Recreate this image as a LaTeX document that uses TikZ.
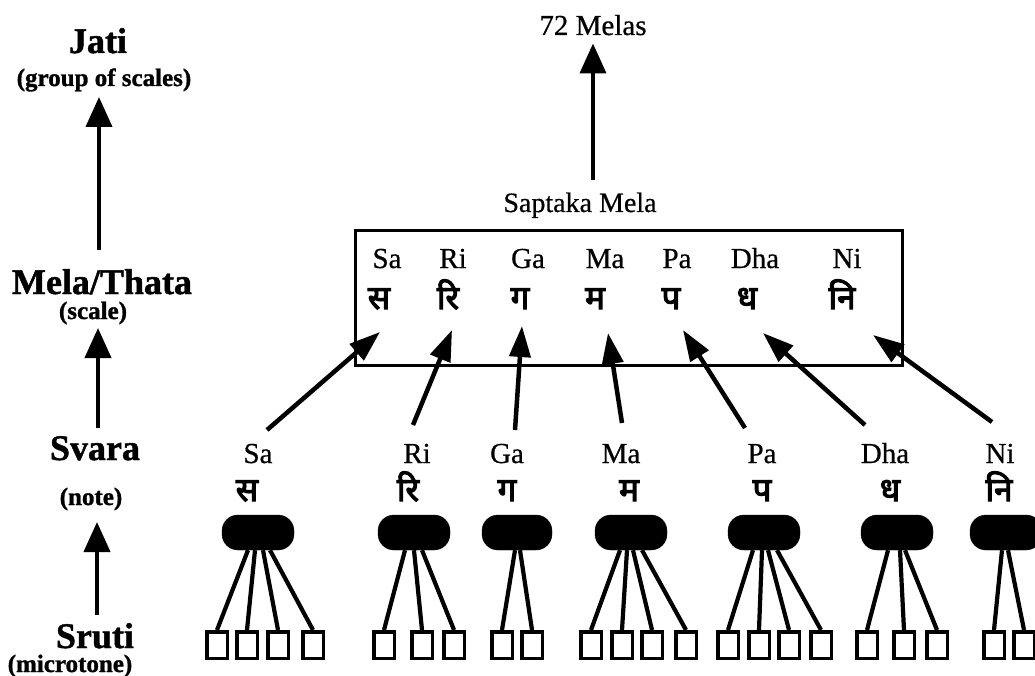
\documentclass[tikz,border=0pt]{standalone}
\usepackage{fontspec}
\setmainfont{Liberation Serif}[FakeBold=0.6, BoldFeatures={FakeBold=1.2}]
\newfontfamily\deva[Script=Devanagari,FakeBold=3.5]{Noto Sans}
\usetikzlibrary{arrows.meta}
\begin{document}
\begin{tikzpicture}[x=1pt,y=-1pt,
  head/.style={font=\fontsize{36}{37}\selectfont\bfseries, inner sep=0pt, anchor=base},
  sub/.style={font=\fontsize{25}{26}\selectfont\bfseries, inner sep=0pt, anchor=base},
  lbl/.style={font=\fontsize{29}{30}\selectfont, inner sep=0pt, anchor=base},
  dev/.style={font=\fontsize{33}{35}\selectfont\deva, inner sep=0pt, anchor=base},
  bigarr/.style={line width=4pt, -{Triangle[length=30pt,width=26pt]}},
  midarr/.style={line width=4.5pt, -{Triangle[length=31pt,width=21pt]}},
  pill/.style={fill=black, draw=black, rounded corners=16pt, minimum width=72pt, minimum height=35pt, inner sep=0pt},
  sq/.style={draw=black, line width=3.5pt, fill=white, minimum width=20.5pt, minimum height=26.5pt, inner sep=0pt},
  conn/.style={line width=4.2pt},
  frame/.style={draw=black, line width=3pt, inner sep=0pt}
]
\useasboundingbox (0,0) rectangle (1035,676);

% ---------- left hierarchy ----------
\node[head] (jati)  at (98,53)   {Jati};
\node[sub]  (grp)   at (104,86)  {(group of scales)};
\node[head] (mela)  at (102,294) {Mela/Thata};
\node[sub]  (scl)   at (93,319)  {(scale)};
\node[head] (svara) at (95,460)  {Svara};
\node[sub]  (note)  at (91,505)  {(note)};
\node[head] (sruti) at (95,648)  {Sruti};
\node[sub]  (micro) at (70,672)  {(microtone)};

\coordinate (l1a) at (99,250); \coordinate (l1b) at (99,97);
\coordinate (l2a) at (98,428); \coordinate (l2b) at (98,328);
\coordinate (l3a) at (97,615); \coordinate (l3b) at (97,522);
\draw[bigarr] (l1a) -- (l1b);
\draw[bigarr] (l2a) -- (l2b);
\draw[bigarr] (l3a) -- (l3b);

% ---------- top ----------
\node[lbl] (melas) at (593,35) {72 Melas};
\node[lbl, font=\fontsize{28}{30}\selectfont] (sapt) at (580,212) {Saptaka Mela};
\draw[bigarr, shorten <=12pt, shorten >=8pt] (sapt.north -| melas.south) -- (melas.south);

% ---------- box ----------
\node[frame, minimum width=547pt, minimum height=134pt] (box) at (629,298) {};
\foreach \n/\x in {Sa/387, Ri/453, Ga/528, Ma/605, Pa/677, Dha/755, Ni/847}
  \node[lbl] (b\n) at (\x,268) {\n};
\node[dev] (bdSa)  at (379,309) {स};
\node[dev] (bdRi)  at (448,309) {रि};
\node[dev] (bdGa)  at (520,309) {ग};
\node[dev] (bdMa)  at (595,309) {म};
\node[dev] (bdPa)  at (671,309) {प};
\node[dev] (bdDha) at (747,309) {ध};
\node[dev] (bdNi)  at (842,309) {नि};

% ---------- svara row ----------
\foreach \n/\x in {Sa/258, Ri/417, Ga/507, Ma/621, Pa/762, Dha/885, Ni/1000}
  \node[lbl] (s\n) at (\x,463) {\n};
\node[dev] (sdSa)  at (247,501) {स};
\node[dev] (sdRi)  at (408,501) {रि};
\node[dev] (sdGa)  at (507,501) {ग};
\node[dev] (sdMa)  at (629,501) {म};
\node[dev] (sdPa)  at (762,501) {प};
\node[dev] (sdDha) at (890,501) {ध};
\node[dev] (sdNi)  at (999,501) {नि};

% arrows svara -> mela
\foreach \n/\ax/\ay/\bx/\by in {Sa/267/430/380/332, Ri/413/425/452/330, Ga/515/430/522/326,
    Ma/622/423/608/333, Pa/745/428/683/330, Dha/865/425/763/333, Ni/992/422/873/335}{
  \coordinate (ta\n) at (\ax,\ay);
  \coordinate (tb\n) at (\bx,\by);
  \draw[midarr] (ta\n) -- (tb\n);
}

% ---------- pills and srutis ----------
\node[pill] (pSa)  at (258,532.5) {};
\node[pill] (pRi)  at (414,532.5) {};
\node[pill, minimum width=70pt] (pGa)  at (517,532.5) {};
\node[pill] (pMa)  at (631,532.5) {};
\node[pill] (pPa)  at (764,532.5) {};
\node[pill] (pDha) at (897,532.5) {};
\node[pill] (pNi)  at (1006,532.5) {};

\foreach \i/\x/\o in {1/217/-10, 2/247/-3, 3/278/5, 4/313/12}{
  \node[sq] (qSa\i) at (\x,645) {};
  \draw[conn] ([xshift=\o]pSa.south) -- (qSa\i.north);}
\foreach \i/\x/\o in {1/384/-9, 2/422/0, 3/454/8}{
  \node[sq] (qRi\i) at (\x,645) {};
  \draw[conn] ([xshift=\o]pRi.south) -- (qRi\i.north);}
\foreach \i/\x/\o in {1/502/-2, 2/532/3}{
  \node[sq] (qGa\i) at (\x,645) {};
  \draw[conn] ([xshift=\o]pGa.south) -- (qGa\i.north);}
\foreach \i/\x/\o in {1/591/-11, 2/622/-4, 3/652/2, 4/686/11}{
  \node[sq] (qMa\i) at (\x,645) {};
  \draw[conn] ([xshift=\o]pMa.south) -- (qMa\i.north);}
\foreach \i/\x/\o in {1/728/-11, 2/759/-2, 3/789/4, 4/821/13}{
  \node[sq] (qPa\i) at (\x,645) {};
  \draw[conn] ([xshift=\o]pPa.south) -- (qPa\i.north);}
\foreach \i/\x/\o in {1/867/-9, 2/904/3, 3/937/8}{
  \node[sq] (qDha\i) at (\x,645) {};
  \draw[conn] ([xshift=\o]pDha.south) -- (qDha\i.north);}
\foreach \i/\x/\o in {1/994/-4, 2/1024/2}{
  \node[sq] (qNi\i) at (\x,645) {};
  \draw[conn] ([xshift=\o]pNi.south) -- (qNi\i.north);}
\end{tikzpicture}
\end{document}
